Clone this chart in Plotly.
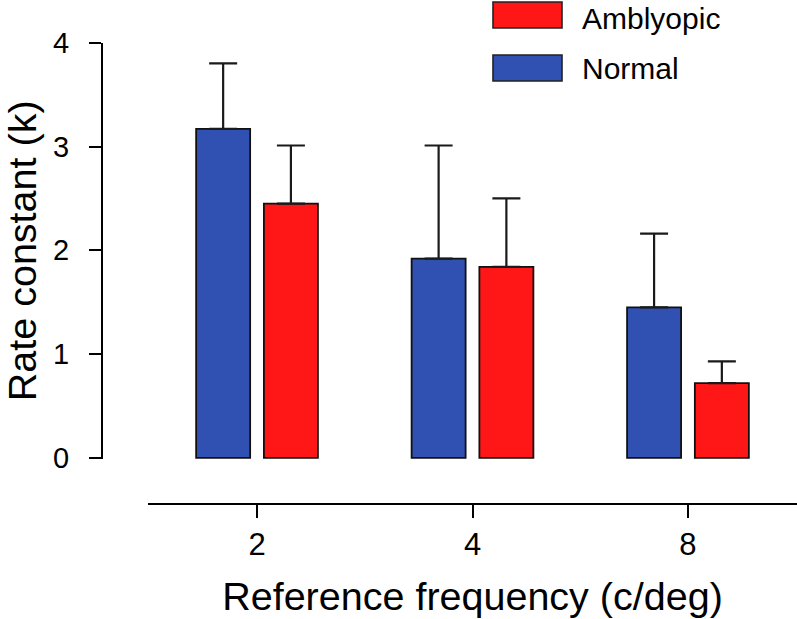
import plotly.graph_objects as go

# ---- data ----
categories = ["2", "4", "8"]
normal_k = [3.17, 1.92, 1.45]
normal_err = [0.63, 1.09, 0.71]
amblyopic_k = [2.45, 1.84, 0.72]
amblyopic_err = [0.56, 0.66, 0.21]
series_names = ["Normal", "Amblyopic"]
y_ticks = [0, 1, 2, 3, 4]

W, H = 797, 619
BLUE = "#3050B2"
RED = "#FF1616"
FONT = "Liberation Sans, Arial, sans-serif"


def px(x):
    return x / W


def py(y):
    return 1 - y / H


fig = go.Figure()
for name, vals, errs, col in [
    (series_names[0], normal_k, normal_err, BLUE),
    (series_names[1], amblyopic_k, amblyopic_err, RED),
]:
    fig.add_trace(go.Bar(
        x=categories, y=vals, name=name,
        marker=dict(color=col, line=dict(color="#111111", width=1.8)),
        error_y=dict(type="data", array=errs, arrayminus=[0] * len(errs),
                     symmetric=False, color="#1a1a1a", thickness=2.2, width=14),
        showlegend=False,
    ))

fig.update_layout(
    width=W, height=H,
    margin=dict(l=0, r=0, t=0, b=0, pad=0, autoexpand=False),
    paper_bgcolor="white", plot_bgcolor="white",
    barmode="group", bargap=0.371, bargroupgap=0.203,
    font=dict(family=FONT, color="black"),
    xaxis=dict(
        type="category",
        domain=[px(148), 1],
        range=[-0.506, 2.506],
        anchor="free", position=py(504),
        automargin=False,
        showline=True, linecolor="black", linewidth=2,
        ticks="outside", ticklen=13, tickwidth=2, tickcolor="black",
        tickfont=dict(size=31, family=FONT),
        ticklabelstandoff=0,
        showgrid=False, zeroline=False,
        title=dict(text="Reference frequency (c/deg)",
                   font=dict(size=39.5, family=FONT), standoff=20),
    ),
    yaxis=dict(
        domain=[py(459), py(42.7)],
        range=[-0.01, 4],
        anchor="free", position=px(102),
        automargin=False,
        tickvals=y_ticks,
        showline=True, linecolor="black", linewidth=2,
        ticks="outside", ticklen=12, tickwidth=2, tickcolor="black",
        tickfont=dict(size=29, family=FONT),
        ticklabelstandoff=14,
        showgrid=False, zeroline=False,
        title=dict(text="Rate constant (k)",
                   font=dict(size=39.5, family=FONT), standoff=13),
    ),
)

# custom legend (large swatches)
legend_items = [(series_names[1], RED, 2, 28, 18), (series_names[0], BLUE, 55, 81, 68)]
for name, col, y0, y1, yc in legend_items:
    fig.add_shape(type="rect", xref="paper", yref="paper",
                  x0=px(493), x1=px(562), y0=py(y1), y1=py(y0),
                  fillcolor=col, line=dict(color="#222222", width=1.6))
    fig.add_annotation(xref="paper", yref="paper", x=px(580), y=py(yc),
                       text=name, showarrow=False, xanchor="left", yanchor="middle",
                       font=dict(size=30, family=FONT, color="black"))

fig.write_html("out.html", config={"displayModeBar": False},
               post_script="document.body.style.margin='0';document.body.style.overflow='hidden';")
